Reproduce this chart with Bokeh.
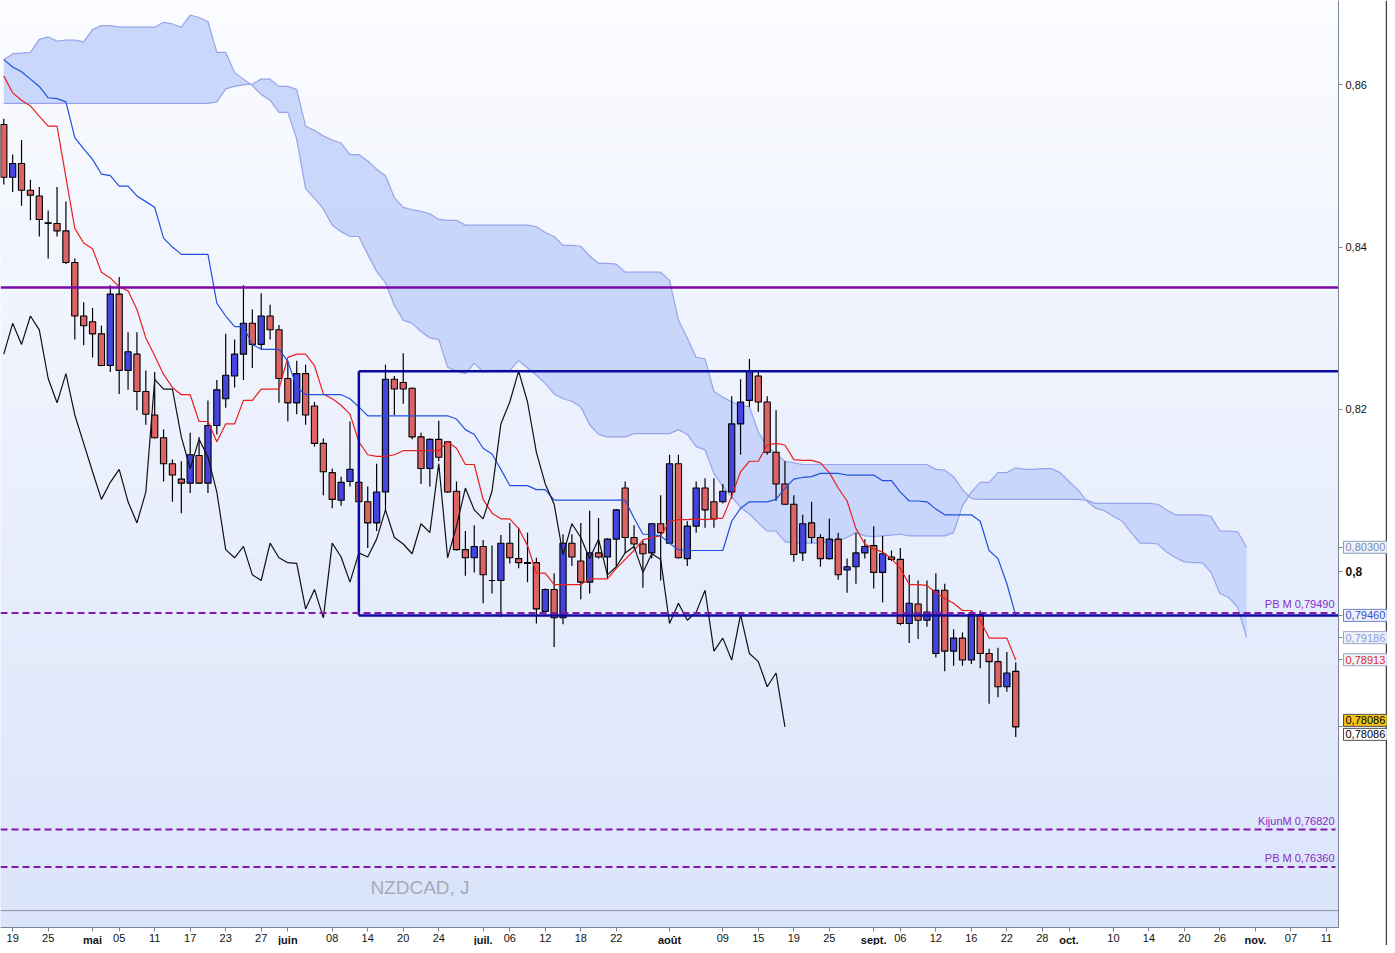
import numpy as np
from bokeh.plotting import figure
from bokeh.models import Range1d, FixedTicker, Label, LinearAxis
from bokeh.embed import file_html
from bokeh.resources import INLINE

# ---------------- data (daily NZDCAD, bar index = trading day) ----------------
open_ = [0.8551, 0.8486, 0.8503, 0.8470, 0.8463, 0.8430, 0.8429, 0.8420, 0.8381, 0.8315,
         0.8308, 0.8293, 0.8254, 0.8342, 0.8248, 0.8268, 0.8222, 0.8193, 0.8165, 0.8133,
         0.8114, 0.8109, 0.8143, 0.8109, 0.8180, 0.8213, 0.8241, 0.8268, 0.8306, 0.8280,
         0.8315, 0.8298, 0.8238, 0.8208, 0.8244, 0.8204, 0.8158, 0.8122, 0.8088, 0.8111,
         0.8110, 0.8086, 0.8060, 0.8098, 0.8237, 0.8233, 0.8226, 0.8166, 0.8127, 0.8163,
         0.8160, 0.8099, 0.8027, 0.8017, 0.8031, 0.7989, 0.7989, 0.8035, 0.8016, 0.8011,
         0.8011, 0.7951, 0.7978, 0.7943, 0.8035, 0.8013, 0.7987, 0.8023, 0.8018, 0.8040,
         0.8103, 0.8042, 0.8034, 0.8023, 0.8059, 0.8035, 0.8133, 0.8016, 0.8056, 0.8103,
         0.8086, 0.8086, 0.8098, 0.8182, 0.8211, 0.8241, 0.8209, 0.8147, 0.8108, 0.8083,
         0.8023, 0.8060, 0.8042, 0.8016, 0.8040, 0.8002, 0.8006, 0.8023, 0.8032, 0.7999,
         0.8018, 0.8015, 0.7936, 0.7960, 0.7940, 0.7899, 0.7977, 0.7902, 0.7918, 0.7891,
         0.7947, 0.7899, 0.7889, 0.7858, 0.7877]
high_ = [0.8558, 0.8514, 0.8532, 0.8483, 0.8474, 0.8445, 0.8474, 0.8456, 0.8386, 0.8332,
         0.8325, 0.8303, 0.8353, 0.8363, 0.8295, 0.8295, 0.8248, 0.8246, 0.8175, 0.8138,
         0.8136, 0.8171, 0.8166, 0.8211, 0.8236, 0.8293, 0.8286, 0.8353, 0.8323, 0.8343,
         0.8329, 0.8304, 0.8260, 0.8260, 0.8255, 0.8209, 0.8164, 0.8127, 0.8117, 0.8185,
         0.8120, 0.8105, 0.8133, 0.8255, 0.8241, 0.8269, 0.8227, 0.8171, 0.8164, 0.8186,
         0.8161, 0.8111, 0.8050, 0.8057, 0.8039, 0.8032, 0.8045, 0.8060, 0.8054, 0.8048,
         0.8017, 0.7979, 0.7998, 0.8046, 0.8046, 0.8060, 0.8075, 0.8066, 0.8041, 0.8077,
         0.8111, 0.8057, 0.8038, 0.8060, 0.8094, 0.8144, 0.8144, 0.8062, 0.8111, 0.8115,
         0.8115, 0.8108, 0.8216, 0.8237, 0.8262, 0.8246, 0.8216, 0.8199, 0.8136, 0.8094,
         0.8070, 0.8086, 0.8046, 0.8065, 0.8048, 0.8016, 0.8048, 0.8040, 0.8056, 0.8044,
         0.8026, 0.8029, 0.7996, 0.7989, 0.7989, 0.7998, 0.7985, 0.7929, 0.7925, 0.7952,
         0.7952, 0.7905, 0.7906, 0.7901, 0.7888]
low_ = [0.8477, 0.8468, 0.8451, 0.8433, 0.8413, 0.8386, 0.8413, 0.8379, 0.8286, 0.8279,
        0.8264, 0.8253, 0.8246, 0.8219, 0.8224, 0.8199, 0.8181, 0.8164, 0.8111, 0.8086,
        0.8072, 0.8097, 0.8108, 0.8097, 0.8169, 0.8202, 0.8227, 0.8236, 0.8251, 0.8274,
        0.8286, 0.8208, 0.8185, 0.8194, 0.8181, 0.8154, 0.8094, 0.8078, 0.8081, 0.8105,
        0.8078, 0.8029, 0.8050, 0.8075, 0.8193, 0.8207, 0.8163, 0.8108, 0.8105, 0.8136,
        0.8097, 0.8026, 0.7995, 0.7999, 0.7961, 0.7973, 0.7944, 0.8010, 0.8004, 0.7987,
        0.7936, 0.7950, 0.7907, 0.7935, 0.8007, 0.7966, 0.7973, 0.8016, 0.7991, 0.8007,
        0.8023, 0.8028, 0.7980, 0.8016, 0.7989, 0.8034, 0.8016, 0.8007, 0.8048, 0.8054,
        0.8054, 0.8084, 0.8090, 0.8144, 0.8203, 0.8197, 0.8144, 0.8087, 0.8082, 0.8012,
        0.8013, 0.8035, 0.8006, 0.8015, 0.7990, 0.7974, 0.7985, 0.8016, 0.7979, 0.7962,
        0.8013, 0.7934, 0.7912, 0.7917, 0.7932, 0.7894, 0.7877, 0.7884, 0.7884, 0.7886,
        0.7881, 0.7837, 0.7845, 0.7852, 0.7796]
close_ = [0.8486, 0.8503, 0.8470, 0.8464, 0.8434, 0.8429, 0.8420, 0.8381, 0.8315, 0.8303,
          0.8293, 0.8254, 0.8342, 0.8248, 0.8271, 0.8222, 0.8194, 0.8165, 0.8133, 0.8119,
          0.8109, 0.8144, 0.8109, 0.8180, 0.8224, 0.8242, 0.8268, 0.8306, 0.8280, 0.8315,
          0.8298, 0.8238, 0.8208, 0.8244, 0.8193, 0.8158, 0.8123, 0.8089, 0.8110, 0.8126,
          0.8086, 0.8060, 0.8098, 0.8237, 0.8225, 0.8225, 0.8166, 0.8127, 0.8163, 0.8141,
          0.8098, 0.8027, 0.8017, 0.8031, 0.7996, 0.7989, 0.8035, 0.8017, 0.8011, 0.8010,
          0.7954, 0.7978, 0.7943, 0.8035, 0.8018, 0.7987, 0.8023, 0.8018, 0.8040, 0.8076,
          0.8042, 0.8034, 0.8022, 0.8059, 0.8048, 0.8133, 0.8017, 0.8056, 0.8103, 0.8076,
          0.8065, 0.8099, 0.8182, 0.8209, 0.8247, 0.8209, 0.8147, 0.8108, 0.8083, 0.8021,
          0.8059, 0.8042, 0.8016, 0.8040, 0.7996, 0.8006, 0.8023, 0.8031, 0.7999, 0.8022,
          0.8015, 0.7936, 0.7961, 0.7940, 0.7950, 0.7977, 0.7902, 0.7918, 0.7891, 0.7947,
          0.7899, 0.7889, 0.7858, 0.7875, 0.78086]

tenkan = [0.8611, 0.8590, 0.8581, 0.8574, 0.8561, 0.8549, 0.8549, 0.8486, 0.8423, 0.8405,
          0.8398, 0.8369, 0.8362, 0.8351, 0.8346, 0.8323, 0.8288, 0.8266, 0.8243, 0.8227,
          0.8218, 0.8218, 0.8185, 0.8185, 0.8160, 0.8182, 0.8182, 0.8211, 0.8211, 0.8225,
          0.8225, 0.8225, 0.8264, 0.8268, 0.8268, 0.8254, 0.8219, 0.8213, 0.8205, 0.8194,
          0.8160, 0.8144, 0.8142, 0.8142, 0.8144, 0.8149, 0.8149, 0.8149, 0.8149, 0.8149,
          0.8160, 0.8152, 0.8132, 0.8132, 0.8089, 0.8072, 0.8065, 0.8065, 0.8053, 0.8032,
          0.7998, 0.7998, 0.7984, 0.7984, 0.7984, 0.7984, 0.7991, 0.7991, 0.7991, 0.8004,
          0.8015, 0.8026, 0.8039, 0.8042, 0.8044, 0.8062, 0.8064, 0.8064, 0.8065, 0.8064,
          0.8065, 0.8066, 0.8093, 0.8123, 0.8136, 0.8136, 0.8156, 0.8158, 0.8156, 0.8138,
          0.8137, 0.8137, 0.8134, 0.8122, 0.8103, 0.8087, 0.8053, 0.8034, 0.8028, 0.8024,
          0.8016, 0.8004, 0.7984, 0.7984, 0.7983, 0.7974, 0.7967, 0.7961, 0.7952, 0.7952,
          0.7940, 0.7918, 0.7918, 0.7918, 0.7891]
kijun = [0.8631, 0.8622, 0.8616, 0.8607, 0.8598, 0.8584, 0.8583, 0.8579, 0.8535, 0.8521,
         0.8508, 0.8490, 0.8488, 0.8475, 0.8475, 0.8463, 0.8456, 0.8449, 0.8411, 0.8400,
         0.8391, 0.8391, 0.8391, 0.8391, 0.8331, 0.8315, 0.8302, 0.8302, 0.8280, 0.8274,
         0.8274, 0.8274, 0.8259, 0.8227, 0.8218, 0.8218, 0.8218, 0.8218, 0.8218, 0.8213,
         0.8203, 0.8192, 0.8192, 0.8192, 0.8192, 0.8192, 0.8192, 0.8192, 0.8192, 0.8192,
         0.8192, 0.8188, 0.8175, 0.8169, 0.8152, 0.8145, 0.8126, 0.8106, 0.8106, 0.8106,
         0.8101, 0.8101, 0.8088, 0.8088, 0.8088, 0.8088, 0.8088, 0.8088, 0.8088, 0.8088,
         0.8088, 0.8066, 0.8046, 0.8046, 0.8044, 0.8035, 0.8027, 0.8026, 0.8026, 0.8026,
         0.8026, 0.8026, 0.8062, 0.8078, 0.8086, 0.8086, 0.8086, 0.8089, 0.8103, 0.8114,
         0.8116, 0.8117, 0.8121, 0.8121, 0.8121, 0.8119, 0.8119, 0.8119, 0.8119, 0.8112,
         0.8112, 0.8098, 0.8087, 0.8087, 0.8086, 0.8077, 0.8070, 0.8070, 0.8070, 0.8070,
         0.8062, 0.8026, 0.8016, 0.7985, 0.7946]
span_a = [0.8631, 0.8638, 0.8639, 0.8640, 0.8656, 0.8659, 0.8654, 0.8655, 0.8655, 0.8653,
          0.8668, 0.8673, 0.8673, 0.8671, 0.8671, 0.8671, 0.8671, 0.8671, 0.8677, 0.8675,
          0.8671, 0.8686, 0.8683, 0.8678, 0.8640, 0.8640, 0.8615, 0.8607, 0.8599, 0.8588,
          0.8581, 0.8566, 0.8566, 0.8533, 0.8472, 0.8460, 0.8447, 0.8427, 0.8419, 0.8413,
          0.8413, 0.8391, 0.8370, 0.8356, 0.8328, 0.8310, 0.8306, 0.8296, 0.8288, 0.8286,
          0.8252, 0.8247, 0.8244, 0.8257, 0.8246, 0.8248, 0.8248, 0.8248, 0.8260, 0.8251,
          0.8242, 0.8232, 0.8219, 0.8213, 0.8210, 0.8203, 0.8181, 0.8169, 0.8166, 0.8166,
          0.8166, 0.8170, 0.8170, 0.8170, 0.8170, 0.8170, 0.8175, 0.8169, 0.8154, 0.8150,
          0.8121, 0.8105, 0.8092, 0.8079, 0.8071, 0.8060, 0.8050, 0.8050, 0.8037, 0.8035,
          0.8035, 0.8035, 0.8035, 0.8037, 0.8038, 0.8042, 0.8048, 0.8044, 0.8043, 0.8044,
          0.8045, 0.8046, 0.8044, 0.8044, 0.8044, 0.8044, 0.8044, 0.8048, 0.8081, 0.8098,
          0.8110, 0.8110, 0.8122, 0.8122, 0.8128, 0.8126, 0.8126, 0.8127, 0.8127, 0.8122,
          0.8111, 0.8101, 0.8087, 0.8078, 0.8075, 0.8068, 0.8062, 0.8048, 0.8035, 0.8035,
          0.8034, 0.8024, 0.8017, 0.8012, 0.8011, 0.8011, 0.7999, 0.7973, 0.7968, 0.7956,
          0.7919]
span_b = [0.8577, 0.8577, 0.8577, 0.8577, 0.8577, 0.8577, 0.8577, 0.8577, 0.8577, 0.8577,
          0.8577, 0.8577, 0.8577, 0.8577, 0.8577, 0.8577, 0.8577, 0.8577, 0.8577, 0.8577,
          0.8577, 0.8577, 0.8577, 0.8577, 0.8579, 0.8595, 0.8598, 0.8600, 0.8601, 0.8607,
          0.8607, 0.8598, 0.8598, 0.8594, 0.8549, 0.8544, 0.8537, 0.8532, 0.8528, 0.8514,
          0.8514, 0.8506, 0.8496, 0.8488, 0.8461, 0.8449, 0.8446, 0.8444, 0.8441, 0.8434,
          0.8433, 0.8433, 0.8427, 0.8427, 0.8427, 0.8427, 0.8427, 0.8427, 0.8427, 0.8427,
          0.8425, 0.8418, 0.8413, 0.8402, 0.8402, 0.8401, 0.8389, 0.8380, 0.8380, 0.8379,
          0.8369, 0.8369, 0.8369, 0.8369, 0.8369, 0.8359, 0.8310, 0.8288, 0.8264, 0.8262,
          0.8222, 0.8215, 0.8209, 0.8205, 0.8203, 0.8172, 0.8154, 0.8145, 0.8136, 0.8134,
          0.8132, 0.8132, 0.8132, 0.8132, 0.8132, 0.8132, 0.8132, 0.8132, 0.8132, 0.8132,
          0.8132, 0.8132, 0.8132, 0.8132, 0.8132, 0.8126, 0.8125, 0.8117, 0.8101, 0.8090,
          0.8089, 0.8089, 0.8089, 0.8089, 0.8089, 0.8089, 0.8089, 0.8089, 0.8089, 0.8089,
          0.8089, 0.8089, 0.8088, 0.8084, 0.8084, 0.8084, 0.8084, 0.8084, 0.8084, 0.8084,
          0.8083, 0.8076, 0.8070, 0.8070, 0.8070, 0.8070, 0.8068, 0.8050, 0.8050, 0.8049,
          0.8030]
chikou_shift = 26

# horizontal objects drawn on the chart
resistance_level = 0.8350
box_left, box_top, box_bottom = 40, 0.8247, 0.7946
dashed_levels = [0.7949, 0.7682, 0.7636]
dashed_texts = ["PB M 0,79490", "KijunM 0,76820", "PB M 0,76360"]
separator_level = 0.75821

# axis ticks (trading-day index)
day_ticks = [1, 5, 13, 17, 21, 25, 29, 37, 41, 45, 49, 57, 61, 65, 69, 81, 85, 89, 93,
             101, 105, 109, 113, 117, 125, 129, 133, 137, 145, 149]
day_labels = ["19", "25", "05", "11", "17", "23", "27", "08", "14", "20", "24", "06", "12",
              "18", "22", "09", "15", "19", "25", "06", "12", "16", "22", "28", "10", "14",
              "20", "26", "07", "11"]
month_ticks = [10, 32, 54, 75, 98, 120, 141]
month_labels = ["mai", "juin", "juil.", "août", "sept.", "oct.", "nov."]
price_ticks = [0.86, 0.84, 0.82]
price_labels = ["0,86", "0,84", "0,82"]
bold_tick, bold_label = 0.80, "0,8"

# price boxes on the right scale: value, text, text colour, fill, border
box_values = [0.8030, 0.7946, 0.79186, 0.78913, 0.78086, 0.78086]
box_texts = ["0,80300", "0,79460", "0,79186", "0,78913", "0,78086", "0,78086"]
box_text_colors = ["#7d8bb5", "#2f4fd0", "#8c9bd6", "#e0281f", "#000000", "#000000"]
box_fill_colors = ["#eef2fb", "#eef2fb", "#eef2fb", "#eef2fb", "#f3c318", "#ffffff"]
box_line_colors = ["#8f9cb8", "#6f82c8", "#9aa6c8", "#9aa6c8", "#505050", "#505050"]
box_shift_px = [0, 0, 0, 0, 6.5, -7.5]

# ---------------- geometry ----------------
FONT = "Liberation Sans"
W, H = 1387, 945            # whole figure
PW, PH = 1338, 927          # price/time area inside it
XL, XP = -0.37, 150.36      # bar index at left edge / at price scale
YP, YT = 0.75613, 0.87039   # price at bottom of chart area / at top
bx = (XP - XL) / PW
by = (YT - YP) / PH
XR = XP + (W - PW) * bx
YB = YP - (H - PH) * by

p = figure(width=W, height=H, x_range=Range1d(XL, XR), y_range=Range1d(YB, YT),
           output_backend="svg", toolbar_location=None,
           x_axis_location=None, y_axis_location=None,
           min_border_left=0, min_border_top=0, min_border_right=0, min_border_bottom=0,
           background_fill_color="white", border_fill_color="white", outline_line_color=None)
p.grid.visible = False

# background gradient of the chart area (white at top -> pale blue at bottom)
nb = 80
edges = np.linspace(YP, YT, nb + 1)
c_top = np.array([251, 252, 255])
c_bot = np.array([218, 228, 250])
band_cols = []
for k in range(nb):
    t = (k + 0.5) / nb
    c = c_bot + (c_top - c_bot) * t
    band_cols.append("#%02x%02x%02x" % tuple(int(round(v)) for v in c))
tops = list(edges[1:] + by * 0.6)
tops[-1] = YT
p.quad(left=XL - 1, right=XP, bottom=edges[:-1], top=tops, fill_color=band_cols, line_color=None)

# Ichimoku cloud
xc = list(range(len(span_a)))
p.varea(x=xc, y1=span_a, y2=span_b, fill_color="#c3d3fa", fill_alpha=0.9)
p.line(xc, span_a, line_color="#97a4ea", line_width=1.2)
p.line(xc, span_b, line_color="#97a4ea", line_width=1.2)

# candles
idx = list(range(len(close_)))
up = [c >= o for o, c in zip(open_, close_)]
body_top = [max(o, c) for o, c in zip(open_, close_)]
body_bot = [min(o, c) for o, c in zip(open_, close_)]
body_col = ["#4444de" if u else "#dc6464" for u in up]
p.segment(x0=idx, y0=low_, x1=idx, y1=high_, line_color="black", line_width=1.2)
p.vbar(x=idx, width=0.7, top=body_top, bottom=body_bot, fill_color=body_col,
       line_color="black", line_width=1.1)

# Ichimoku lines
p.line(idx, tenkan, line_color="#e8201c", line_width=1.2)
p.line(idx, kijun, line_color="#2150e0", line_width=1.2)
n_ch = len(close_) - chikou_shift
p.line(idx[:n_ch], close_[chikou_shift:], line_color="#111111", line_width=1.2)

# drawn objects
p.segment(x0=[XL], y0=[resistance_level], x1=[XP], y1=[resistance_level],
          line_color="#7a0aa8", line_width=2.5)
# range box: top, bottom and left edges (it runs on past the price scale)
p.segment(x0=[box_left, box_left, box_left], y0=[box_top, box_bottom, box_bottom],
          x1=[XP, XP, box_left], y1=[box_top, box_bottom, box_top],
          line_color="#0b0ba0", line_width=2.5)
p.segment(x0=[XL] * len(dashed_levels), y0=dashed_levels, x1=[XP - 3 * bx] * len(dashed_levels),
          y1=dashed_levels, line_color="#8218ac", line_width=2, line_dash="7 4")
for lv, tx in zip(dashed_levels, dashed_texts):
    p.add_layout(Label(x=XP - 4 * bx, y=lv + 3 * by, text=tx, text_align="right",
                       text_baseline="bottom", text_color="#8a2cc8", text_font_size="11px",
                       text_font=FONT))
p.segment(x0=[XL], y0=[separator_level], x1=[XP], y1=[separator_level],
          line_color="#8b93a3", line_width=1)
# window edge at the far right
p.segment(x0=[XR - 1.0 * bx], y0=[YB], x1=[XR - 1.0 * bx], y1=[YT], line_color="#404040", line_width=1.5)

p.add_layout(Label(x=41.3, y=0.76102, text="NZDCAD, J", text_align="left",
                   text_baseline="middle", text_color="#a3aabb", text_font_size="19px",
                   text_font=FONT))

# ---------------- axes (drawn at the edges of the chart area) ----------------
def style_axis(ax, bold=False, tick_out=4, standoff=3):
    ax.axis_line_color = "#7c8594"
    ax.major_tick_line_color = "#7c8594"
    ax.major_tick_out = tick_out
    ax.major_tick_in = 0
    ax.minor_tick_line_color = None
    ax.major_label_text_font_size = "12px" if bold else "11px"
    ax.major_label_text_font = FONT
    ax.major_label_text_color = "#111111"
    ax.major_label_text_font_style = "bold" if bold else "normal"
    ax.major_label_standoff = standoff

yax = LinearAxis(fixed_location=XP, ticker=FixedTicker(ticks=price_ticks + box_values),
                 bounds=(YP, YT))
ov = {v: t for v, t in zip(price_ticks, price_labels)}
for v in box_values:
    ov[v] = ""
yax.major_label_overrides = ov
style_axis(yax)
p.add_layout(yax, "right")

yax2 = LinearAxis(fixed_location=XP, ticker=FixedTicker(ticks=[bold_tick]), bounds=(YP, YT),
                  major_label_overrides={bold_tick: bold_label})
style_axis(yax2, bold=True)
p.add_layout(yax2, "right")

xax = LinearAxis(fixed_location=YP, ticker=FixedTicker(ticks=day_ticks), bounds=(XL, XP),
                 major_label_overrides={t: l for t, l in zip(day_ticks, day_labels)})
style_axis(xax, standoff=2)
p.add_layout(xax, "below")

xax2 = LinearAxis(fixed_location=YP, ticker=FixedTicker(ticks=month_ticks), bounds=(XL, XP),
                  major_label_overrides={t: l for t, l in zip(month_ticks, month_labels)})
style_axis(xax2, bold=True, standoff=2)
xax2.major_label_text_font_size = "11px"
p.add_layout(xax2, "below")

for v, tx, tc, fc, lc, sh in zip(box_values, box_texts, box_text_colors, box_fill_colors,
                                 box_line_colors, box_shift_px):
    p.add_layout(Label(x=XP + 5 * bx, y=v + sh * by, text=tx, text_align="left",
                       text_baseline="middle", text_color=tc, text_font_size="11px",
                       text_font=FONT, background_fill_color=fc, border_line_color=lc,
                       padding=2))

open("out.html", "w").write(file_html(p, INLINE))
